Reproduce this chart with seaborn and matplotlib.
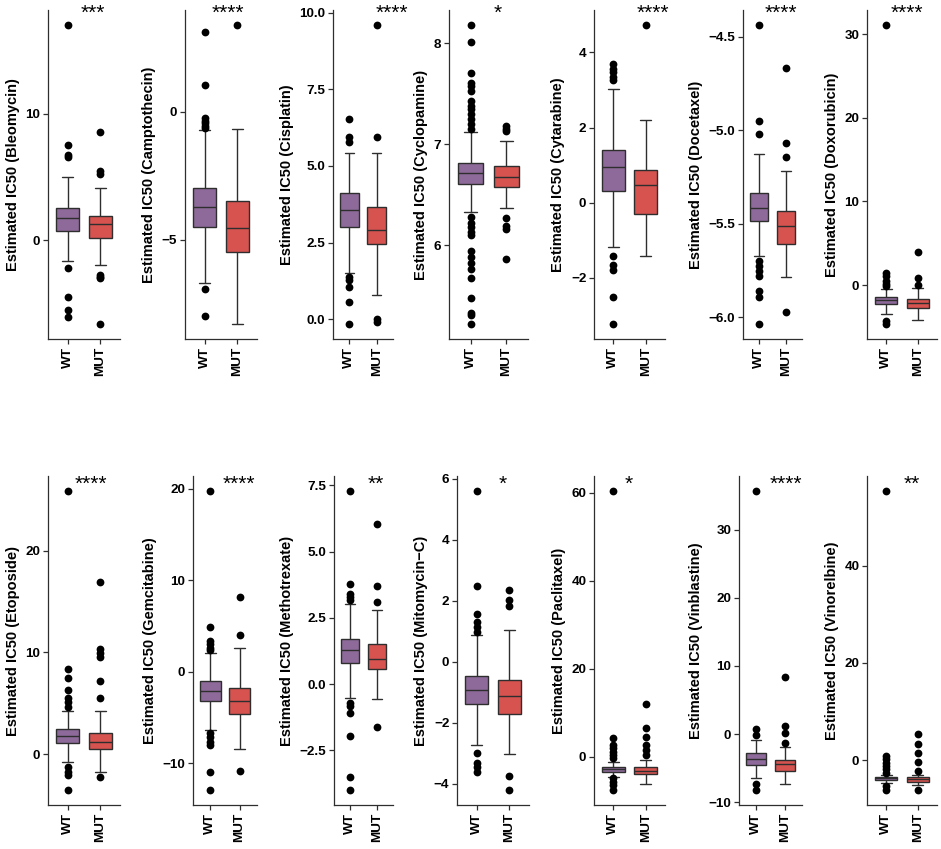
import numpy as np
import pandas as pd
import matplotlib
matplotlib.use("Agg")
import matplotlib.pyplot as plt
import matplotlib.transforms as mtrans
import seaborn as sns

# ---------------- data ----------------
drugs = ["Bleomycin", "Camptothecin", "Cisplatin", "Cyclopamine", "Cytarabine",
         "Docetaxel", "Doxorubicin", "Etoposide", "Gemcitabine", "Methotrexate",
         "Mitomycin\u2212C", "Paclitaxel", "Vinblastine", "Vinorelbine"]
groups = ["WT", "MUT"]

# box statistics: [lower whisker, Q1, median, Q3, upper whisker]
wt_stats = [
    [-1.6, 0.71, 1.79, 2.58, 5.0],
    [-6.7, -4.5, -3.72, -2.96, -0.72],
    [1.49, 3.01, 3.56, 4.1, 5.41],
    [6.33, 6.61, 6.71, 6.81, 7.12],
    [-1.17, 0.31, 0.95, 1.39, 3.02],
    [-5.669, -5.482, -5.414, -5.336, -5.128],
    [-3.46, -2.26, -1.79, -1.39, -0.5],
    [-0.82, 1.05, 1.77, 2.43, 4.23],
    [-6.36, -3.2, -2.07, -1.02, 2.07],
    [-0.54, 0.80, 1.28, 1.72, 3.02],
    [-2.72, -1.37, -0.91, -0.46, 0.87],
    [-4.55, -3.41, -2.88, -2.27, -1.14],
    [-6.51, -4.55, -3.72, -2.84, -0.88],
    [-4.66, -4.12, -3.77, -3.43, -3.1],
]
mut_stats = [
    [-1.97, 0.21, 1.32, 1.89, 4.13],
    [-8.29, -5.48, -4.53, -3.5, -0.65],
    [0.78, 2.45, 2.9, 3.65, 5.41],
    [6.37, 6.58, 6.68, 6.78, 7.03],
    [-1.41, -0.29, 0.46, 0.88, 2.21],
    [-5.785, -5.609, -5.512, -5.432, -5.218],
    [-4.13, -2.74, -2.18, -1.67, -0.4],
    [-1.74, 0.49, 1.15, 2.1, 4.23],
    [-8.44, -4.65, -3.16, -1.71, 2.65],
    [-0.58, 0.57, 0.94, 1.51, 2.81],
    [-3.03, -1.72, -1.11, -0.58, 1.06],
    [-6.21, -3.94, -3.18, -2.42, -0.76],
    [-7.34, -5.38, -4.45, -3.82, -1.86],
    [-5.14, -4.46, -3.98, -3.57, -3.1],
]
wt_outliers = [
    [17.0, 7.5, 6.7, 6.6, -2.2, -4.5, -5.5, -6.05],
    [3.13, 1.05, -0.25, -0.35, -0.45, -0.55, -0.62, -6.92, -7.99],
    [6.52, 5.95, 5.79, 1.38, 1.27, 1.05, 0.55, -0.16],
    [8.18, 8.01, 7.70, 7.61, 7.58, 7.53, 7.43, 7.38, 7.35, 7.30, 7.25, 7.20, 7.15,
     6.28, 6.22, 6.18, 6.13, 6.10, 5.94, 5.88, 5.82, 5.76, 5.68, 5.48, 5.33, 5.31, 5.22],
    [3.69, 3.57, 3.48, 3.35, 3.26, -1.43, -1.67, -1.79, -2.52, -3.23],
    [-4.437, -4.952, -5.017, -5.696, -5.723, -5.75, -5.777, -5.857, -5.893, -6.035],
    [31.1, 1.5, 1.1, 0.5, 0.1, -0.1, -4.25, -4.65],
    [25.9, 8.33, 7.44, 6.3, 5.48, 5.15, 4.66, -1.31, -1.74, -2.07, -3.54],
    [19.75, 4.91, 3.38, 3.09, 2.65, 2.36, -6.65, -7.09, -7.64, -8.0, -10.9, -12.9],
    [7.29, 3.79, 3.39, 3.29, 3.19, -0.70, -0.83, -1.08, -1.95, -3.49, -4.0],
    [5.6, 2.48, 1.58, 1.31, 1.15, 0.98, -2.97, -3.32, -3.45, -3.6],
    [60.45, 4.17, 2.65, 1.89, 1.14, 0.38, -0.4, -4.92, -5.68, -6.44, -7.58],
    [35.7, 0.69, -0.15, -7.34, -8.23],
    [55.4, 0.82, 0.14, -0.55, -1.23, -1.92, -2.61, -5.35, -6.17],
]
mut_outliers = [
    [8.55, 5.5, 5.25, -2.7, -2.9, -3.0, -6.6],
    [3.4],
    [9.6, 5.95, 0.02, -0.09],
    [7.18, 7.15, 7.13, 6.27, 6.19, 6.16, 5.86],
    [4.73],
    [-4.666, -5.068, -5.143, -5.973],
    [4.0, 0.9, 0.0],
    [16.89, 10.3, 9.97, 9.51, 7.21, 5.48, -2.23],
    [8.18, 4.0, -10.8],
    [6.03, 3.69, 3.10, -1.63],
    [2.37, 2.02, 1.82, -3.73, -4.2],
    [11.97, 6.44, 4.55, 2.65, 1.52, 0.38],
    [8.32, 1.17, 0.1, -1.37],
    [5.35, 3.29, 1.51, -0.34, -2.19, -6.17],
]
signif = ["***", "****", "****", "*", "****", "****", "****",
          "****", "****", "**", "*", "*", "****", "**"]
yticks = [
    [0, 10], [-5, 0], [0.0, 2.5, 5.0, 7.5, 10.0], [6, 7, 8], [-2, 0, 2, 4],
    [-6.0, -5.5, -5.0, -4.5], [0, 10, 20, 30], [0, 10, 20], [-10, 0, 10, 20],
    [-2.5, 0.0, 2.5, 5.0, 7.5], [-4, -2, 0, 2, 4, 6], [0, 20, 40, 60],
    [-10, 0, 10, 20, 30], [0, 20, 40],
]
ytick_decimals = [0, 0, 1, 0, 0, 1, 0, 0, 0, 1, 0, 0, 0, 0]

# ---------------- layout (pixels) ----------------
W, H = 941, 849
panel_lr = [(48, 120), (185, 257), (333, 393), (449, 528), (594, 665), (743, 802), (867, 937),
            (48, 120), (193, 257), (334, 393), (457, 529), (594, 665), (739, 802), (867, 937)]
row_tb = [(10, 339), (476, 805)]
star_x = [0.76, 0.70, 1.56, 0.76, 1.21, 0.82, 0.66, 0.71, 0.98, 0.97, 0.81, 0.48, 1.04, 0.80]
star_baseline_px = [19, 490]

palette = {"WT": "#8E6A9A", "MUT": "#D6534F"}
dark = "#2E2E2E"

sns.set_theme(style="ticks")
plt.rcParams["font.family"] = ["Liberation Sans", "DejaVu Sans"]
plt.rcParams["axes.unicode_minus"] = True

fig = plt.figure(figsize=(W / 100, H / 100), dpi=100)

for i, drug in enumerate(drugs):
    row = i // 7
    l, r = panel_lr[i]
    t, b = row_tb[row]
    ax = fig.add_axes([l / W, 1 - b / H, (r - l) / W, (b - t) / H])

    box_df = pd.DataFrame({
        "group": ["WT"] * 5 + ["MUT"] * 5,
        "value": list(wt_stats[i]) + list(mut_stats[i]),
    })
    out_df = pd.DataFrame({
        "group": ["WT"] * len(wt_outliers[i]) + ["MUT"] * len(mut_outliers[i]),
        "value": list(wt_outliers[i]) + list(mut_outliers[i]),
    })

    sns.boxplot(data=box_df, x="group", y="value", hue="group", order=groups,
                hue_order=groups, palette=palette, saturation=1, width=0.7,
                whis=(0, 100), linecolor=dark, linewidth=1.0, fliersize=0,
                legend=False, ax=ax)
    sns.stripplot(data=out_df, x="group", y="value", order=groups, jitter=False,
                  color="black", size=5.6, linewidth=0, ax=ax, zorder=5)

    allv = np.array(wt_stats[i] + mut_stats[i] + wt_outliers[i] + mut_outliers[i])
    lo, hi = allv.min(), allv.max()
    pad = 0.05 * (hi - lo)
    ax.set_ylim(lo - pad, hi + pad)
    ax.set_xlim(-0.6, 1.6)

    ax.set_yticks(yticks[i])
    fmt = "{:.1f}" if ytick_decimals[i] else "{:.0f}"
    ax.set_yticklabels([fmt.format(v).replace("-", "\u2212") for v in yticks[i]],
                       fontweight="bold", fontsize=9.7, color="black")
    ax.set_xticks([0, 1])
    ax.set_xticklabels(groups, rotation=90, fontweight="bold", fontsize=9.7, color="black")

    ax.set_xlabel("")
    ax.set_ylabel(f"Estimated IC50 ({drug})", fontweight="bold", fontsize=10.5,
                  color="black", labelpad=4)

    sns.despine(ax=ax)
    for s in ("left", "bottom"):
        ax.spines[s].set_color(dark)
        ax.spines[s].set_linewidth(0.9)
    ax.tick_params(axis="both", length=3.5, width=0.9, color=dark, pad=2)

    trans = mtrans.blended_transform_factory(ax.transData, fig.transFigure)
    ax.text(star_x[i], 1 - star_baseline_px[row] / H, signif[i], transform=trans,
            ha="center", va="baseline", fontsize=15, color="black", clip_on=False)

fig.savefig("out.png", dpi=100)
